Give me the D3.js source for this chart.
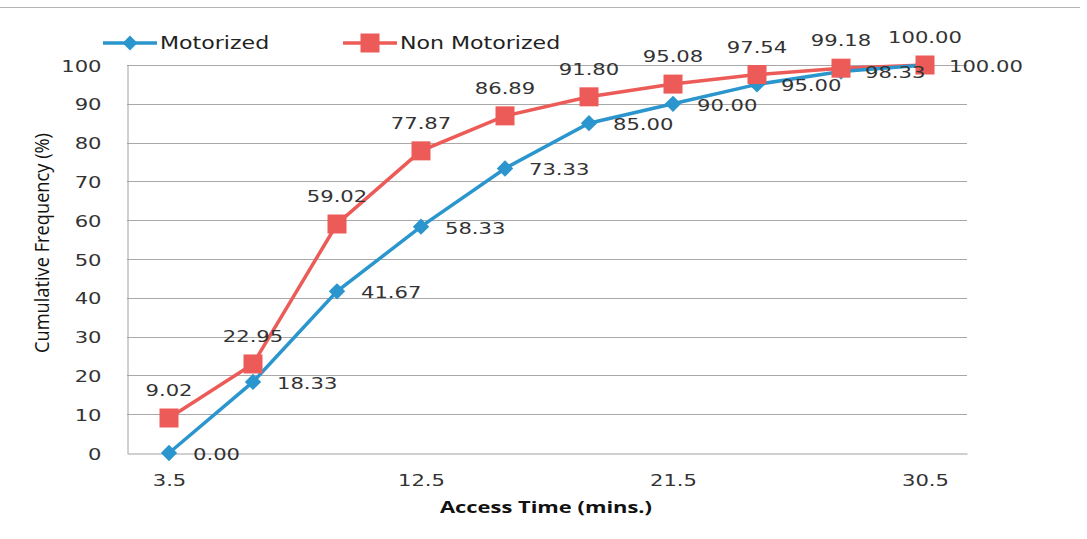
<!DOCTYPE html>
<html>
<head>
<meta charset="utf-8">
<script src="https://cdn.jsdelivr.net/npm/d3@7"></script>
<style>
  html, body { margin: 0; padding: 0; background: #fff; }
  svg { display: block; }
</style>
</head>
<body>
<svg id="chart" width="1087" height="539"></svg>
<script>
// Access time classes (minutes) and cumulative frequencies (%)
const accessTimes = ["3.5", "6.5", "9.5", "12.5", "15.5", "18.5", "21.5", "24.5", "27.5", "30.5"];
const shownTicks = ["3.5", "12.5", "21.5", "30.5"];
const motorized = [0.00, 18.33, 41.67, 58.33, 73.33, 85.00, 90.00, 95.00, 98.33, 100.00];
const nonMotorized = [9.02, 22.95, 59.02, 77.87, 86.89, 91.80, 95.08, 97.54, 99.18, 100.00];
const yTicks = [0, 10, 20, 30, 40, 50, 60, 70, 80, 90, 100];

const blue = "#2a96cd";
const red = "#ec5b57";
const labelFont = "Verdana, 'DejaVu Sans', sans-serif";
const stretch = 1.28;   // wide lettering used throughout the figure

const svg = d3.select("#chart");
const plot = { left: 127, right: 967, top: 65, bottom: 453 };

const x = d3.scalePoint().domain(accessTimes).range([plot.left, plot.right]).padding(0.5);
const y = d3.scaleLinear().domain([0, 100]).range([plot.bottom, plot.top]);

// place a horizontally widened text at (px, py)
function wideText(parent, px, py, str, opts = {}) {
  return parent.append("text")
    .attr("transform", `translate(${px},${py}) scale(${opts.sx || stretch},1)`)
    .attr("text-anchor", opts.anchor || "start")
    .attr("font-family", opts.family || labelFont)
    .attr("font-size", opts.size || 16.5)
    .attr("font-weight", opts.weight || "normal")
    .attr("fill", opts.fill || "#333")
    .text(str);
}

// thin rule across the top of the figure
svg.append("line").attr("x1", 0).attr("x2", 1080).attr("y1", 7.5).attr("y2", 7.5)
  .attr("stroke", "#b5b5b5").attr("stroke-width", 1);

// horizontal gridlines
svg.append("g").selectAll("line").data(yTicks.filter(d => d > 0)).join("line")
  .attr("x1", plot.left).attr("x2", plot.right)
  .attr("y1", d => Math.round(y(d)) + 0.5).attr("y2", d => Math.round(y(d)) + 0.5)
  .attr("stroke", "#a8a8a8").attr("stroke-width", 1);

// y axis
const yAxis = svg.append("g").attr("transform", `translate(${plot.left + 0.5},0)`)
  .call(d3.axisLeft(y).tickValues(yTicks).tickSize(0));
yAxis.select(".domain").attr("stroke", "#a0a0a0");
yAxis.selectAll(".tick text")
  .attr("x", 0).attr("dy", null)
  .attr("transform", `translate(-26,6) scale(${stretch},1)`)
  .attr("font-family", labelFont).attr("font-size", 16.5).attr("fill", "#333");

// x axis (labels on every third class)
const xAxis = svg.append("g").attr("transform", `translate(0,${plot.bottom + 0.5})`)
  .call(d3.axisBottom(x).tickValues(shownTicks).tickSize(0));
xAxis.select(".domain").attr("stroke", "#a0a0a0");
xAxis.selectAll(".tick text")
  .attr("y", 0).attr("dy", null)
  .attr("transform", `translate(0,32) scale(${stretch},1)`)
  .attr("font-family", labelFont).attr("font-size", 16.5).attr("fill", "#333");

// axis titles
svg.append("text")
  .attr("transform", "translate(49,243) rotate(-90)")
  .attr("text-anchor", "middle")
  .attr("font-family", "'Open Sans', 'DejaVu Sans', sans-serif")
  .attr("font-size", 20).attr("fill", "#111")
  .attr("textLength", 220).attr("lengthAdjust", "spacingAndGlyphs")
  .text("Cumulative Frequency (%)");

svg.append("text")
  .attr("x", 546).attr("y", 513)
  .attr("text-anchor", "middle")
  .attr("font-family", "'Open Sans', 'DejaVu Sans', sans-serif")
  .attr("font-weight", "bold")
  .attr("font-size", 16.5).attr("fill", "#111")
  .attr("textLength", 212).attr("lengthAdjust", "spacingAndGlyphs")
  .text("Access Time (mins.)");

const line = d3.line().x((d, i) => x(accessTimes[i])).y(d => y(d));

// Non Motorized series
svg.append("path").datum(nonMotorized).attr("d", line)
  .attr("fill", "none").attr("stroke", red).attr("stroke-width", 3.5);

// Motorized series
svg.append("path").datum(motorized).attr("d", line)
  .attr("fill", "none").attr("stroke", blue).attr("stroke-width", 3.5);

svg.append("g").selectAll("path").data(motorized).join("path")
  .attr("d", d3.symbol().type(d3.symbolDiamond2).size(170))
  .attr("transform", (d, i) => `translate(${x(accessTimes[i])},${y(d)})`)
  .attr("fill", blue);

svg.append("g").selectAll("rect").data(nonMotorized).join("rect")
  .attr("x", (d, i) => x(accessTimes[i]) - 9.5).attr("y", d => y(d) - 9.5)
  .attr("width", 19).attr("height", 19)
  .attr("fill", red);

// value labels
const nmLabels = svg.append("g");
nonMotorized.forEach((d, i) =>
  wideText(nmLabels, x(accessTimes[i]), y(d) - 22, d.toFixed(2), { anchor: "middle" }));

const mLabels = svg.append("g");
motorized.forEach((d, i) =>
  wideText(mLabels, x(accessTimes[i]) + 24, y(d) + 7, d.toFixed(2)));

// legend
const legend = svg.append("g");
const items = [
  { name: "Motorized", color: blue, x0: 103, kind: "diamond" },
  { name: "Non Motorized", color: red, x0: 343, kind: "square" }
];
items.forEach(it => {
  const g = legend.append("g").attr("transform", `translate(${it.x0},43)`);
  g.append("line").attr("x1", 0).attr("x2", 54).attr("stroke", it.color).attr("stroke-width", 3.5);
  if (it.kind === "diamond") {
    g.append("path").attr("d", d3.symbol().type(d3.symbolDiamond2).size(140)).attr("transform", "translate(27,0)").attr("fill", it.color);
  } else {
    g.append("rect").attr("x", 17.5).attr("y", -9.5).attr("width", 19).attr("height", 19).attr("fill", it.color);
  }
  wideText(g, 57, 6, it.name, { size: 17, sx: 1.3, fill: "#222" });
});
</script>
</body>
</html>
